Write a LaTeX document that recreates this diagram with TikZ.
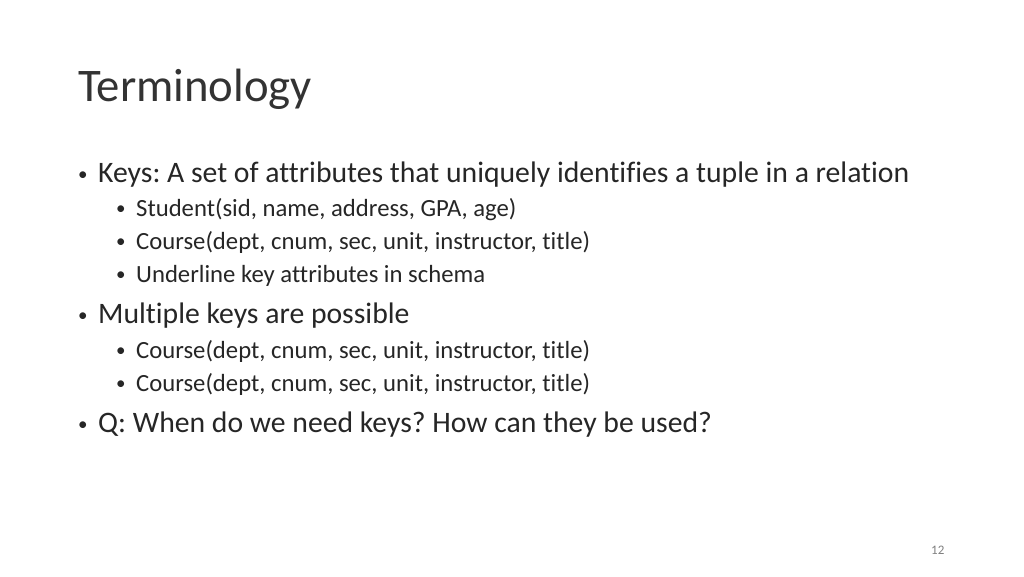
\documentclass[tikz,border=0pt]{standalone}
\usepackage{fontspec}
\setmainfont[RawFeature=-liga]{Carlito}
\frenchspacing
\begin{document}
\begin{tikzpicture}[x=1pt,y=-1pt,
  lvl/.style={anchor=base west,inner sep=0pt,font=\fontsize{29.7}{34}\selectfont,text=black!85},
  sub/.style={anchor=base west,inner sep=0pt,font=\fontsize{24.7}{28}\selectfont,text=black!85},
  bul/.style={anchor=base west,inner sep=0pt,font=\fontsize{19}{22}\selectfont,text=black!85}]
\useasboundingbox (0,0) rectangle (1024,576);
\fill[white] (0,0) rectangle (1024,576);
\node[anchor=base west,inner sep=0pt,font=\fontsize{46.7}{54}\selectfont,text=black!80] (title) at (78,101) {Terminology};
\node[bul] (bb1) at (78,180) {•};
\node[lvl] (b1) at (98,182) {Keys: A set of attributes that uniquely identifies a tuple in a relation};
\node[bul] (bs1) at (116,214) {•};
\node[sub] (s1) at (136,216) {Student(sid, name, address, GPA, age)};
\node[bul] (bs2) at (116,247) {•};
\node[sub] (s2) at (136,249) {Course(dept, cnum, sec, unit, instructor, title)};
\node[bul] (bs3) at (116,280) {•};
\node[sub] (s3) at (136,282) {Underline key attributes in schema};
\node[bul] (bb2) at (78,321) {•};
\node[lvl] (b2) at (98,323) {Multiple keys are possible};
\node[bul] (bs4) at (116,356) {•};
\node[sub] (s4) at (136,358) {Course(dept, cnum, sec, unit, instructor, title)};
\node[bul] (bs5) at (116,389) {•};
\node[sub] (s5) at (136,391) {Course(dept, cnum, sec, unit, instructor, title)};
\node[bul] (bb3) at (78,430) {•};
\node[lvl] (b3) at (98,432) {Q: When do we need keys? How can they be used?};
\node[anchor=base west,inner sep=0pt,font=\fontsize{13}{15}\selectfont,text=black!50] (pg) at (931,554) {12};
\end{tikzpicture}
\end{document}
